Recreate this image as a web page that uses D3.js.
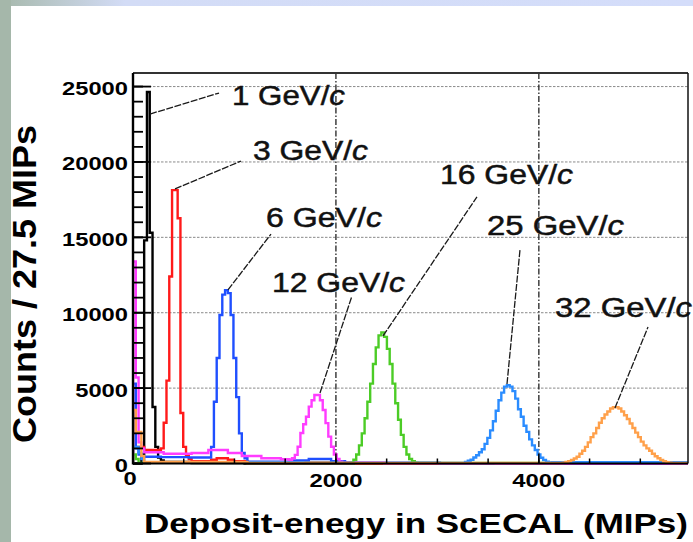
<!DOCTYPE html>
<html><head><meta charset="utf-8">
<script src="https://cdn.jsdelivr.net/npm/d3@7"></script>
<style>html,body{margin:0;padding:0;background:#fff;overflow:hidden}svg{display:block}</style>
</head><body>
<svg id="chart" width="693" height="542"></svg>
<script>
// ---------------- data ----------------
const binWidth = 27.5;          // MIPs per bin
const lastBin = 199;
const xTicks = [0, 2000, 4000];
const yTicks = [0, 5000, 10000, 15000, 20000, 25000];
const energies = ["1", "3", "6", "12", "16", "25", "32"];

// step histograms: [first bin of step, counts]
const hist1GeV = [[0,0],[3,600],[4,14800],[5,24640],[6,15300],[7,3750],[8,1100],[9,400],[10,200],[11,100],[21,30],[40,0]];
const hist3GeV = [[0,1100],[4,900],[10,1000],[11,2700],[12,5500],[13,12400],[14,18130],[15,18130],[16,16270],[17,3350],[18,1100],[19,570],[20,300],[21,150],[28,250],[30,350],[34,250],[36,150],[41,50],[80,0]];
const hist6GeV = [[0,5300],[1,1000],[2,600],[3,450],[10,420],[20,400],[28,1100],[29,4100],[30,7000],[31,9850],[32,11200],[33,11500],[34,11300],[35,9850],[36,7000],[37,4400],[38,2000],[39,700],[40,350],[41,120],[57,200],[63,300],[71,150],[76,50],[110,0]];
const hist12GeV = [[0,13400],[1,5700],[2,1400],[3,1000],[4,750],[11,650],[21,700],[27,900],[34,700],[39,500],[46,350],[53,280],[56,250],[57,350],[58,570],[59,1110],[60,2020],[61,2600],[62,3100],[63,3770],[64,4200],[65,4540],[66,4540],[67,4200],[68,3550],[69,2680],[70,1780],[71,1110],[72,600],[73,300],[74,120],[75,60],[90,20],[130,0]];
const hist16GeV = [[0,600],[1,300],[2,40],[78,60],[79,250],[80,600],[81,1200],[82,2000],[83,3000],[84,4100],[85,5300],[86,6600],[87,7700],[88,8500],[89,8700],[90,8400],[91,7600],[92,6600],[93,5300],[94,4000],[95,2900],[96,1900],[97,1100],[98,600],[99,300],[100,150],[101,60],[102,40]];
const hist25GeV = [[0,1100],[2,700],[3,300],[4,80],[61,40],[119,100],[120,180],[121,250],[122,400],[123,550],[124,750],[125,950],[126,1300],[127,1700],[128,2200],[129,2800],[130,3500],[131,4200],[132,4700],[133,5100],[134,5200],[135,5100],[136,4800],[137,4300],[138,3600],[139,3100],[140,2500],[141,2100],[142,1600],[143,1200],[144,900],[145,600],[146,380],[147,230],[148,120],[149,60],[150,80]];
const hist32GeV = [[0,3550],[1,2100],[3,500],[4,100],[41,30],[154,60],[155,100],[156,160],[157,230],[158,330],[159,450],[160,650],[161,850],[162,1100],[163,1400],[164,1750],[165,2000],[166,2350],[167,2700],[168,3000],[169,3250],[170,3450],[171,3650],[172,3730],[173,3730],[174,3650],[175,3450],[176,3200],[177,2950],[178,2650],[179,2350],[180,2050],[181,1750],[182,1450],[183,1200],[184,1000],[185,850],[186,650],[187,480],[188,350],[189,230],[190,150],[191,90],[192,50],[193,30]];
const histograms = [hist1GeV, hist3GeV, hist6GeV, hist12GeV, hist16GeV, hist25GeV, hist32GeV];

// annotation placement in data units: label start (MIPs, counts), leader from peak to label
const labelX = [976, 1183, 1311, 1370, 3026, 3489, 4159];
const labelY = [23780, 20130, 15690, 11375, 18540, 15160, 9720];
const leaderFrom = [[168,23180],[414,18210],[936,11510],[1843,4680],[2464,8460],[3686,5270],[4750,3680]];
const leaderTo = [[848,24570],[1064,20060],[1360,15220],[2158,11110],[3390,17680],[3814,14160],[5076,9050]];

// ---------------- styles ----------------
const colors = ["#000000", "#ff1a1a", "#1f4fff", "#ff3cff", "#4ccc26", "#2a8cff", "#ffa04a"];
const labelWidths = [113, 115, 116, 133, 133, 137, 137];
const FONT = "'Liberation Sans', Arial, Helvetica, sans-serif";

const svg = d3.select("#chart");
const W = 693, H = 542;
const plot = {left: 133, right: 688, top: 73, bottom: 463.5};

// background decorations
const defs = svg.append("defs");
const grad = defs.append("linearGradient").attr("id", "band").attr("x1", "0").attr("x2", "1");
grad.append("stop").attr("offset", "0").attr("stop-color", "#a6b8ab");
grad.append("stop").attr("offset", "0.18").attr("stop-color", "#d3dcf6");
grad.append("stop").attr("offset", "1").attr("stop-color", "#d4ddfa");
svg.append("rect").attr("width", W).attr("height", H).attr("fill", "#fff");
svg.append("rect").attr("x", 0).attr("y", 0).attr("width", W).attr("height", 6).attr("fill", "url(#band)");
svg.append("rect").attr("x", 0).attr("y", 0).attr("width", 11).attr("height", H).attr("fill", "#a5b7aa");

defs.append("clipPath").attr("id", "clip").append("rect")
  .attr("x", plot.left).attr("y", plot.top - 2).attr("width", plot.right - plot.left).attr("height", plot.bottom - plot.top + 4);

const x = d3.scaleLinear().domain([0, 5470]).range([plot.left, plot.right]);
const y = d3.scaleLinear().domain([0, 25900]).range([plot.bottom, plot.top]);

// grid
const g = svg.append("g");
g.selectAll(".hg").data(yTicks.filter(v => v > 0)).join("line")
  .attr("x1", plot.left).attr("x2", plot.right)
  .attr("y1", d => y(d)).attr("y2", d => y(d))
  .attr("stroke", "#8a8a8a").attr("stroke-width", 1).attr("stroke-dasharray", "2.5,1.5");
g.selectAll(".vg").data(xTicks.filter(v => v > 0)).join("line")
  .attr("x1", d => x(d)).attr("x2", d => x(d))
  .attr("y1", plot.top).attr("y2", plot.bottom)
  .attr("stroke", "#222").attr("stroke-width", 1.3).attr("stroke-dasharray", "6,2,1.5,2");

// histograms
const line = d3.line().x(d => x(d[0] * binWidth)).y(d => y(d[1])).curve(d3.curveStepAfter);
function pts(steps) {
  const p = [[0, 0]];
  steps.forEach(s => p.push([s[0], s[1]]));
  const last = steps[steps.length - 1][1];
  p.push([lastBin, last]);
  return p;
}
const hg = svg.append("g").attr("clip-path", "url(#clip)");
histograms.forEach((h, i) => {
  hg.append("path").attr("d", line(pts(h)))
    .attr("fill", "none").attr("stroke", colors[i]).attr("stroke-width", 2.4)
    .attr("stroke-linejoin", "miter");
});

// frame
svg.append("line").attr("x1", plot.left).attr("x2", plot.right).attr("y1", plot.top).attr("y2", plot.top)
  .attr("stroke", "#333").attr("stroke-width", 1.8);
svg.append("line").attr("x1", plot.right).attr("x2", plot.right).attr("y1", plot.top).attr("y2", plot.bottom)
  .attr("stroke", "#111").attr("stroke-width", 1.5);

// axes
const ax = svg.append("g");
ax.selectAll(".ymin").data(y.ticks(26)).join("line")
  .attr("x1", plot.left).attr("x2", plot.left + 10).attr("y1", d => y(d)).attr("y2", d => y(d))
  .attr("stroke", "#000").attr("stroke-width", 1.8);
ax.selectAll(".ymaj").data(yTicks).join("line")
  .attr("x1", plot.left).attr("x2", plot.left + 18).attr("y1", d => y(d)).attr("y2", d => y(d))
  .attr("stroke", "#000").attr("stroke-width", 1.8);
ax.selectAll(".xmin").data(x.ticks(11)).join("line")
  .attr("x1", d => x(d)).attr("x2", d => x(d)).attr("y1", plot.bottom).attr("y2", plot.bottom - 5)
  .attr("stroke", "#000").attr("stroke-width", 1.5);
ax.selectAll(".xmaj").data(xTicks).join("line")
  .attr("x1", d => x(d)).attr("x2", d => x(d)).attr("y1", plot.bottom).attr("y2", plot.bottom - 10)
  .attr("stroke", "#000").attr("stroke-width", 1.5);
ax.append("line").attr("x1", plot.left).attr("x2", plot.left).attr("y1", plot.top).attr("y2", plot.bottom + 1)
  .attr("stroke", "#000").attr("stroke-width", 2.4);
ax.append("line").attr("x1", plot.left).attr("x2", plot.right).attr("y1", plot.bottom).attr("y2", plot.bottom)
  .attr("stroke", "#000").attr("stroke-width", 1.8);

// tick labels
ax.selectAll(".ylab").data(yTicks).join("text")
  .attr("x", 128).attr("y", d => y(d) + 8.5)
  .attr("text-anchor", "end").attr("font-family", FONT).attr("font-weight", "bold").attr("font-size", 19)
  .attr("textLength", d => String(d).length * 13.2).attr("lengthAdjust", "spacingAndGlyphs")
  .text(d => d);
ax.selectAll(".xlab").data(xTicks).join("text")
  .attr("x", d => x(d) - (d === 0 ? 3 : 0)).attr("y", d => d === 0 ? 485 : 487)
  .attr("text-anchor", "middle").attr("font-family", FONT).attr("font-weight", "bold").attr("font-size", 19)
  .attr("textLength", d => String(d).length * 13.25).attr("lengthAdjust", "spacingAndGlyphs")
  .text(d => d);

// axis titles
svg.append("text").attr("transform", "translate(36,284) rotate(-90)")
  .attr("text-anchor", "middle").attr("font-family", FONT).attr("font-weight", "bold").attr("font-size", 34)
  .attr("textLength", 318).attr("lengthAdjust", "spacingAndGlyphs")
  .text("Counts / 27.5 MIPs");
svg.append("text").attr("x", 144).attr("y", 533)
  .attr("font-family", FONT).attr("font-weight", "bold").attr("font-size", 28)
  .attr("textLength", 544).attr("lengthAdjust", "spacingAndGlyphs")
  .text("Deposit-enegy in ScECAL (MIPs)");

// annotations
const an = svg.append("g");
energies.forEach((e, i) => {
  an.append("line")
    .attr("x1", x(leaderFrom[i][0])).attr("y1", y(leaderFrom[i][1]))
    .attr("x2", x(leaderTo[i][0])).attr("y2", y(leaderTo[i][1]))
    .attr("stroke", "#1a1a1a").attr("stroke-width", 1.3).attr("stroke-dasharray", "7,1.5");
  const t = an.append("text").attr("x", x(labelX[i])).attr("y", y(labelY[i]))
    .attr("font-family", FONT).attr("font-size", 27).attr("fill", "#111")
    .attr("stroke", "#111").attr("stroke-width", 0.5)
    .attr("textLength", labelWidths[i]).attr("lengthAdjust", "spacingAndGlyphs");
  t.append("tspan").text(e + " GeV/");
  t.append("tspan").attr("font-style", "italic").text("c");
});
</script>
</body></html>
